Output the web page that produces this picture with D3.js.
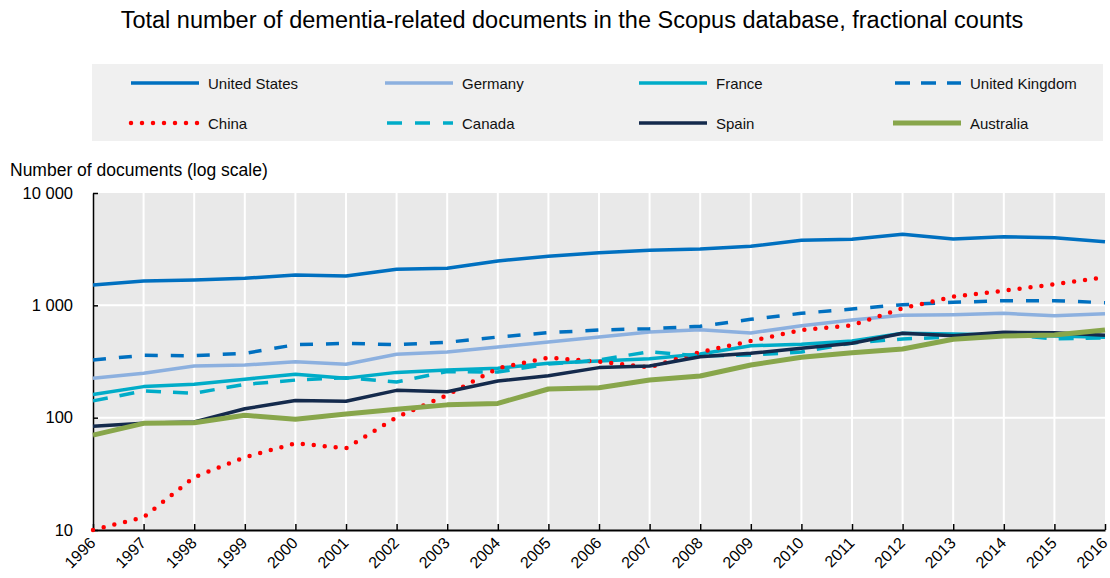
<!DOCTYPE html>
<html lang="en">
<head>
  <meta charset="UTF-8">
  <title>Dementia-related documents in Scopus</title>
  <script src="https://d3js.org/d3.v7.min.js"></script>
  <style>
    body { margin: 0; background: #fff; }
    svg text { font-family: "Liberation Sans", Arial, sans-serif; }
  </style>
</head>
<body>

<div id="chart"></div>

<script>
  // Data
  const years = d3.range(1996, 2017);
  const yTicks = [10, 100, 1000, 10000];

  const unitedStates = [1517, 1647, 1681, 1741, 1862, 1825, 2094, 2137, 2481, 2733, 2942, 3090, 3174, 3354, 3793, 3873, 4290, 3895, 4083, 4000, 3687];
  const germany = [224, 248, 288, 294, 315, 299, 367, 384, 426, 472, 522, 579, 607, 567, 659, 741, 815, 825, 849, 809, 843];
  const france = [161, 189, 198, 220, 243, 224, 253, 266, 275, 305, 319, 335, 369, 437, 450, 481, 564, 556, 544, 533, 519];
  const unitedKingdom = [326, 359, 356, 374, 446, 459, 446, 469, 522, 571, 603, 619, 651, 751, 849, 927, 1013, 1064, 1100, 1100, 1056];
  const china = [10, 13, 29.5, 44.4, 59.1, 53.4, 101, 159, 275, 342, 315, 281, 384, 481, 603, 664, 941, 1194, 1350, 1539, 1777];
  const canada = [141, 173, 165, 198, 216, 227, 208, 257, 255, 300, 326, 387, 354, 361, 384, 462, 502, 522, 556, 502, 512];
  const spain = [84, 89, 91.5, 120, 142, 140, 175, 170, 212, 236, 279, 288, 349, 374, 415, 459, 564, 537, 575, 571, 541];
  const australia = [70, 89, 90, 105, 97, 108, 119, 130, 134, 180, 185, 216, 235, 294, 345, 379, 409, 499, 533, 544, 603];

  const seriesNames = ["United States", "Germany", "France", "United Kingdom", "China", "Canada", "Spain", "Australia"];
  const seriesValues = [unitedStates, germany, france, unitedKingdom, china, canada, spain, australia];

  // line look per series
  const styles = {
    "United States":  { color: "#0070c0", width: 3.5, dash: null },
    "Germany":        { color: "#8cb0df", width: 3.5, dash: null },
    "France":         { color: "#00acc8", width: 3.5, dash: null },
    "United Kingdom": { color: "#0070c0", width: 3.5, dash: "13,13", legendDash: "15,11" },
    "China":          { color: "#ff0000", width: 4.5, dash: "0,11", cap: "round" },
    "Canada":         { color: "#00acc8", width: 3.5, dash: "15,12", legendDash: "15,13" },
    "Spain":          { color: "#142a4c", width: 3.5, dash: null },
    "Australia":      { color: "#88a64b", width: 5, dash: null }
  };

  const W = 1110, H = 578;
  const margin = { left: 93, right: 5, top: 193, bottom: 48 };

  const svg = d3.select("#chart")
    .append("svg")
    .attr("width", W)
    .attr("height", H);

  const x = d3.scaleLinear()
    .domain([1996, 2016])
    .range([margin.left, W - margin.right]);

  const y = d3.scaleLog()
    .domain([10, 10000])
    .range([H - margin.bottom, margin.top]);

  // Title
  svg.append("text")
    .attr("x", 572)
    .attr("y", 28)
    .attr("text-anchor", "middle")
    .style("font-size", "23.5px")
    .attr("fill", "#000")
    .text("Total number of dementia-related documents in the Scopus database, fractional counts");

  // Legend box
  svg.append("rect")
    .attr("x", 92)
    .attr("y", 64)
    .attr("width", 1011)
    .attr("height", 77)
    .attr("fill", "#f0f0f0");

  const legend = svg.selectAll(".legend")
    .data(seriesNames)
    .enter()
    .append("g")
    .attr("class", "legend")
    .attr("transform", (d, i) => `translate(${131 + (i % 4) * 254}, ${i < 4 ? 83 : 123})`);

  legend.append("line")
    .attr("x1", d => styles[d].legendDash ? 2 : 0)
    .attr("x2", 68)
    .attr("y1", 0)
    .attr("y2", 0)
    .attr("stroke", d => styles[d].color)
    .attr("stroke-width", d => styles[d].width)
    .attr("stroke-dasharray", d => styles[d].legendDash || styles[d].dash)
    .attr("stroke-linecap", d => styles[d].cap || "butt");

  legend.append("text")
    .attr("x", 77)
    .attr("y", 5.5)
    .style("font-size", "15px")
    .attr("fill", "#111")
    .text(d => d);

  // Y axis title
  svg.append("text")
    .attr("x", 10)
    .attr("y", 176)
    .style("font-size", "17.5px")
    .attr("fill", "#000")
    .text("Number of documents (log scale)");

  // Plot background
  svg.append("rect")
    .attr("x", x(1996))
    .attr("y", y(10000))
    .attr("width", x(2016) - x(1996))
    .attr("height", y(10) - y(10000))
    .attr("fill", "#e9e9e9");

  // Grid lines
  svg.append("g")
    .selectAll("line")
    .data(years.slice(1, -1))
    .enter()
    .append("line")
    .attr("x1", d => x(d))
    .attr("x2", d => x(d))
    .attr("y1", y(10000))
    .attr("y2", y(10))
    .attr("stroke", "#fff")
    .attr("stroke-width", 2);

  svg.append("g")
    .selectAll("line")
    .data([100, 1000])
    .enter()
    .append("line")
    .attr("x1", x(1996))
    .attr("x2", x(2016))
    .attr("y1", d => y(d))
    .attr("y2", d => y(d))
    .attr("stroke", "#fff")
    .attr("stroke-width", 2);

  // Axes
  const fmt = d => d3.format(",")(d).replace(/,/g, " ");

  const yAxis = svg.append("g")
    .attr("transform", `translate(${x(1996)},0)`)
    .call(d3.axisLeft(y).tickValues(yTicks).tickFormat(fmt).tickSizeInner(-5).tickSizeOuter(0).tickPadding(20));
  yAxis.select(".domain").attr("stroke", "#000").attr("stroke-width", 1.5);
  yAxis.selectAll(".tick line").attr("stroke", "#000").attr("stroke-width", 1.5);
  yAxis.selectAll(".tick text")
    .style("font-size", "16.5px")
    .attr("fill", "#000");

  const xAxis = svg.append("g")
    .attr("transform", `translate(0,${y(10)})`)
    .call(d3.axisBottom(x).tickValues(years).tickFormat(d3.format("d")).tickSizeInner(-6).tickSizeOuter(0));
  xAxis.select(".domain").attr("stroke", "#000").attr("stroke-width", 2);
  xAxis.selectAll(".tick line").attr("stroke", "#000").attr("stroke-width", 1.5);
  xAxis.selectAll(".tick text")
    .style("font-size", "16px")
    .attr("fill", "#000")
    .attr("text-anchor", "end")
    .attr("dy", null)
    .attr("y", 0)
    .attr("transform", "translate(3,14) rotate(-45)");

  // Lines
  const line = d3.line()
    .x((d, i) => x(years[i]))
    .y(d => y(d));

  svg.append("g")
    .selectAll("path")
    .data(seriesNames.map((n, i) => ({ name: n, values: seriesValues[i] })))
    .enter()
    .append("path")
    .attr("d", d => line(d.values))
    .attr("fill", "none")
    .attr("stroke", d => styles[d.name].color)
    .attr("stroke-width", d => styles[d.name].width)
    .attr("stroke-dasharray", d => styles[d.name].dash)
    .attr("stroke-linecap", d => styles[d.name].cap || "butt")
    .attr("stroke-linejoin", "round");
</script>

</body>
</html>
